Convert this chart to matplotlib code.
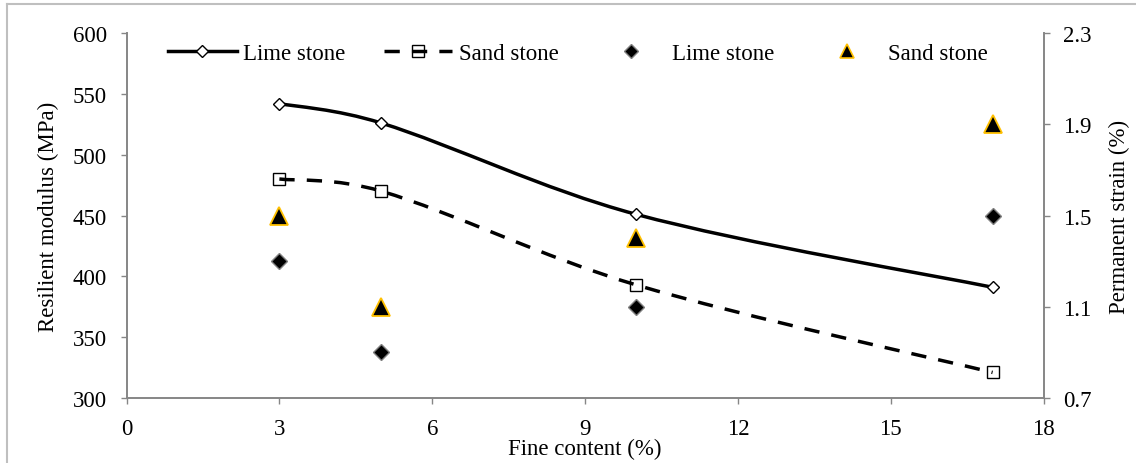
import numpy as np
import matplotlib
matplotlib.use('Agg')
import matplotlib.pyplot as plt
from matplotlib.path import Path
from matplotlib.patches import PathPatch
from matplotlib.lines import Line2D
from matplotlib.ticker import FormatStrFormatter

# ---- data ----
fine_content = [3, 5, 10, 17]
mr_lime = [542, 526, 451, 391]
mr_sand = [480, 470, 393, 321]
ps_lime = [1.3, 0.9, 1.1, 1.5]
ps_sand = [1.5, 1.1, 1.4, 1.9]
x_ticks = [0, 3, 6, 9, 12, 15, 18]
mr_ticks = [300, 350, 400, 450, 500, 550, 600]
ps_ticks = [0.7, 1.1, 1.5, 1.9, 2.3]
legend_labels = ['Lime stone', 'Sand stone', 'Lime stone', 'Sand stone']
x_label = 'Fine content (%)'
y_label = 'Resilient modulus (MPa)'
y2_label = 'Permanent strain (%)'

plt.rcParams['font.family'] = ['Liberation Serif', 'DejaVu Serif']
FS = 16.5
GRAY = '#868686'
LW = 2.5
DASH = (0, (4.4, 3.5))


def smooth_path(ax, xs, ys):
    """Excel-like smoothed line: cubic Bezier segments through the data points,
    tangents partly scaled by the on-screen segment lengths."""
    pts = np.column_stack([xs, ys]).astype(float)
    disp = ax.transData.transform(pts)
    n = len(pts)
    seg = np.hypot(*np.diff(disp, axis=0).T)
    verts = [pts[0]]
    codes = [Path.MOVETO]
    for i in range(n - 1):
        p1, p2 = pts[i], pts[i + 1]
        if i > 0:
            w = 0.5 * (seg[i] / (seg[i - 1] + seg[i]) + 0.5)
            c1 = p1 + (p2 - pts[i - 1]) * w / 3.0
        else:
            c1 = p1 + (p2 - p1) / 6.0
        if i + 2 < n:
            w = 0.5 * (seg[i] / (seg[i] + seg[i + 1]) + 0.5)
            c2 = p2 - (pts[i + 2] - p1) * w / 3.0
        else:
            c2 = p2 - (p2 - p1) / 6.0
        verts += [c1, c2, p2]
        codes += [Path.CURVE4] * 3
    return Path(verts, codes)


fig = plt.figure(figsize=(11.36, 4.64), dpi=100)
ax = fig.add_axes([0.1114, 0.1401, 0.8072, 0.7866])
ax2 = ax.twinx()

# axes setup
ax.set_xlim(0, 18)
ax.set_ylim(300, 600)
ax2.set_ylim(0.7, 2.3)
ax.set_xticks(x_ticks)
ax.set_yticks(mr_ticks)
ax2.set_yticks(ps_ticks)
ax2.yaxis.set_major_formatter(FormatStrFormatter('%.1f'))

# smoothed lines (resilient modulus)
ax.add_patch(PathPatch(smooth_path(ax, fine_content, mr_lime), facecolor='none',
                       edgecolor='black', lw=LW, zorder=2))
ax.add_patch(PathPatch(smooth_path(ax, fine_content, mr_sand), facecolor='none',
                       edgecolor='black', lw=LW, linestyle=DASH, zorder=2))
ax.plot(fine_content, mr_lime, ls='none', marker='D', ms=6.2, mfc='white',
        mec='black', mew=1, zorder=3)
ax.plot(fine_content, mr_sand, ls='none', marker='s', ms=9, mfc='none',
        mec='black', mew=1, zorder=3)

# permanent strain markers
ax2.plot(fine_content, ps_lime, ls='none', marker='D', ms=8.2, mfc='black',
         mec='#808080', mew=1, zorder=3)
ax2.plot(fine_content, ps_sand, ls='none', marker='^', ms=13, mfc='black',
         mec='#FFC000', mew=1.3, zorder=3)

for a in (ax, ax2):
    a.tick_params(axis='both', direction='out', length=4.3, width=1,
                  color=GRAY, pad=10, labelsize=FS, labelcolor='black')
    for s in a.spines.values():
        s.set_color(GRAY)
        s.set_linewidth(1.4)
    a.spines['top'].set_visible(False)
ax.spines['right'].set_visible(False)
ax2.spines['left'].set_visible(False)
ax2.spines['bottom'].set_visible(False)

ax.set_xlabel(x_label, fontsize=FS)
ax.xaxis.set_label_coords(0.5, -0.137)
ax.xaxis.label.set_va('center')
ax.set_ylabel(y_label, fontsize=FS)
ax.yaxis.set_label_coords(-0.0856, 0.5)
ax.yaxis.label.set_va('center')
ax2.set_ylabel(y2_label, fontsize=FS, rotation=90)
ax2.yaxis.set_label_coords(1.083, 0.5)
ax2.yaxis.label.set_va('center')
ax2.yaxis.label.set_ha('center')

# legend
h1 = Line2D([], [], color='black', lw=LW, marker='D', ms=6.2, mfc='white',
            mec='black', mew=1)
h2 = Line2D([], [], color='black', lw=LW, ls=DASH, marker='s', ms=9,
            mfc='none', mec='black', mew=1)
h3 = Line2D([], [], ls='none', marker='D', ms=7, mfc='black', mec='#808080',
            mew=1)
h4 = Line2D([], [], ls='none', marker='^', ms=10.5, mfc='black',
            mec='#FFC000', mew=1.2)
ax2.legend([h1, h2, h3, h4], legend_labels, loc='center left',
           bbox_to_anchor=(0.045, 0.945), ncol=4, frameon=False,
           handlelength=3.0, handletextpad=0.3, columnspacing=1.65,
           borderpad=0, borderaxespad=0, fontsize=FS, numpoints=1)

# chart-area border
bx = 6.5 / 1136
by = 1 - 5 / 464
fig.add_artist(Line2D([bx, bx], [0, by], transform=fig.transFigure,
                      color='#bfbfbf', lw=1.5))
fig.add_artist(Line2D([bx, 1], [by, by], transform=fig.transFigure,
                      color='#bfbfbf', lw=1.5))

fig.savefig('out.png', dpi=100)
